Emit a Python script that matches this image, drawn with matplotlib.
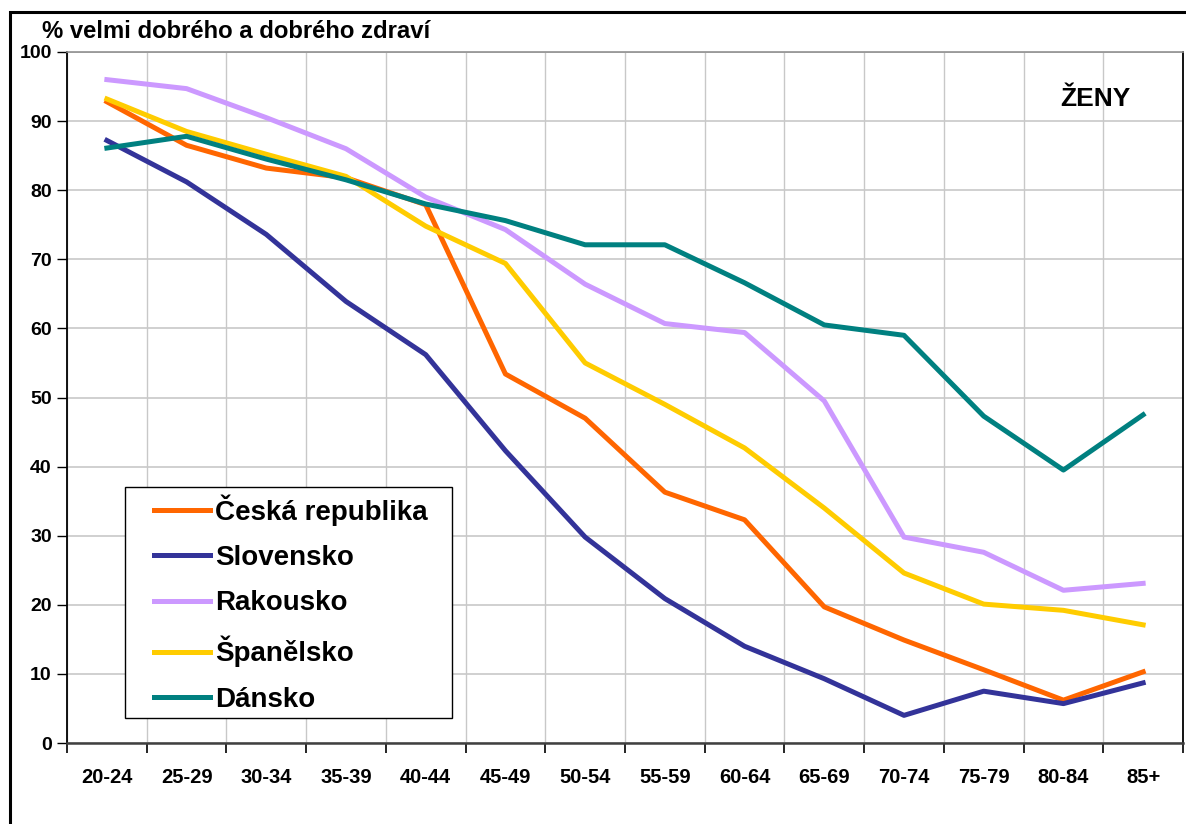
import matplotlib.pyplot as plt
from matplotlib.patches import Rectangle
from matplotlib.lines import Line2D

plt.rcParams['font.family'] = ['Liberation Sans', 'DejaVu Sans']
plt.rcParams['font.weight'] = 'bold'

# -------- data --------
ages = ['20-24', '25-29', '30-34', '35-39', '40-44', '45-49', '50-54',
        '55-59', '60-64', '65-69', '70-74', '75-79', '80-84', '85+']

cz = [92.8, 86.5, 83.2, 81.8, 77.9, 53.4, 47.0, 36.3, 32.3, 19.7, 14.9, 10.6, 6.2, 10.3]
sk = [87.2, 81.2, 73.6, 63.9, 56.2, 42.3, 29.8, 20.9, 14.0, 9.3, 4.0, 7.5, 5.7, 8.7]
at = [96.0, 94.7, 90.5, 86.0, 79.0, 74.3, 66.4, 60.7, 59.4, 49.5, 29.8, 27.6, 22.1, 23.1]
es = [93.2, 88.5, 85.2, 82.0, 74.8, 69.4, 55.0, 49.0, 42.7, 34.0, 24.6, 20.1, 19.2, 17.1]
dk = [86.1, 87.8, 84.5, 81.5, 78.0, 75.6, 72.1, 72.1, 66.6, 60.5, 59.0, 47.3, 39.5, 47.5]

names  = ['Česká republika', 'Slovensko', 'Rakousko', 'Španělsko', 'Dánsko']
series = [cz, sk, at, es, dk]
colors = ['#FF6600', '#333399', '#CC99FF', '#FFCC00', '#008080']

W, H = 1186, 824

# -------- plot --------
fig = plt.figure(figsize=(W/100, H/100), dpi=100)
ax = fig.add_axes([67/W, 1 - 743/H, (1183-67)/W, (743-52)/H])

xs = range(len(ages))
for s, c, n in zip(series, colors, names):
    ax.plot(xs, s, '-', color=c, lw=3.6, label=n)

ax.set_xlim(-0.5, len(ages) - 0.5)
ax.set_ylim(0, 100)
ax.set_yticks(range(0, 101, 10))
ax.set_xticks(xs)
ax.set_xticklabels(ages)
ax.set_xticks([i - 0.5 for i in range(len(ages) + 1)], minor=True)

ax.grid(True, axis='y', color='#C8C8C8', lw=1.2)
ax.grid(True, axis='x', which='minor', color='#C8C8C8', lw=1.0)
ax.set_axisbelow(True)

ax.tick_params(axis='x', which='major', length=0, pad=18, labelsize=14.5)
ax.tick_params(axis='x', which='minor', length=7, width=1.2, color='black')
ax.tick_params(axis='y', length=7, width=1.0, pad=4, labelsize=14)

for side in ['left', 'right']:
    ax.spines[side].set_color('black')
    ax.spines[side].set_linewidth(1.3)
ax.spines['bottom'].set_color('#404040')
ax.spines['bottom'].set_linewidth(1.8)
ax.spines['top'].set_color('#909090')
ax.spines['top'].set_linewidth(1.2)

ax.text(12.4, 93.2, 'ŽENY', fontsize=19, fontweight='bold', ha='center', va='center')

fig.text(42/W, 1 - 32/H, '% velmi dobrého a dobrého zdraví', fontsize=17.2,
         fontweight='bold', ha='left', va='center')

# legend: box drawn separately, entries placed inside it
ax.add_patch(Rectangle(((125-67)/1116, (743-718)/691), (452-125)/1116, (718-487)/691,
                       transform=ax.transAxes, facecolor='white', edgecolor='black',
                       lw=1.0, zorder=5))
handles = [Line2D([], [], color=c, lw=3.6) for c in colors]
leg = ax.legend(handles, names, loc='upper left',
                bbox_to_anchor=((154-67)/1116, (743-494)/691),
                prop={'size': 20, 'weight': 'bold'},
                frameon=False, handlelength=2.0, handletextpad=0.2,
                labelspacing=0.7, borderaxespad=0, borderpad=0)
leg.set_zorder(6)

# outer chart frame
fig.add_artist(Rectangle((10/W, -0.1), 1.2, 1 - 12/H + 0.1, transform=fig.transFigure,
                         fill=False, edgecolor='black', lw=2.2))

fig.savefig('out.png', dpi=100)
